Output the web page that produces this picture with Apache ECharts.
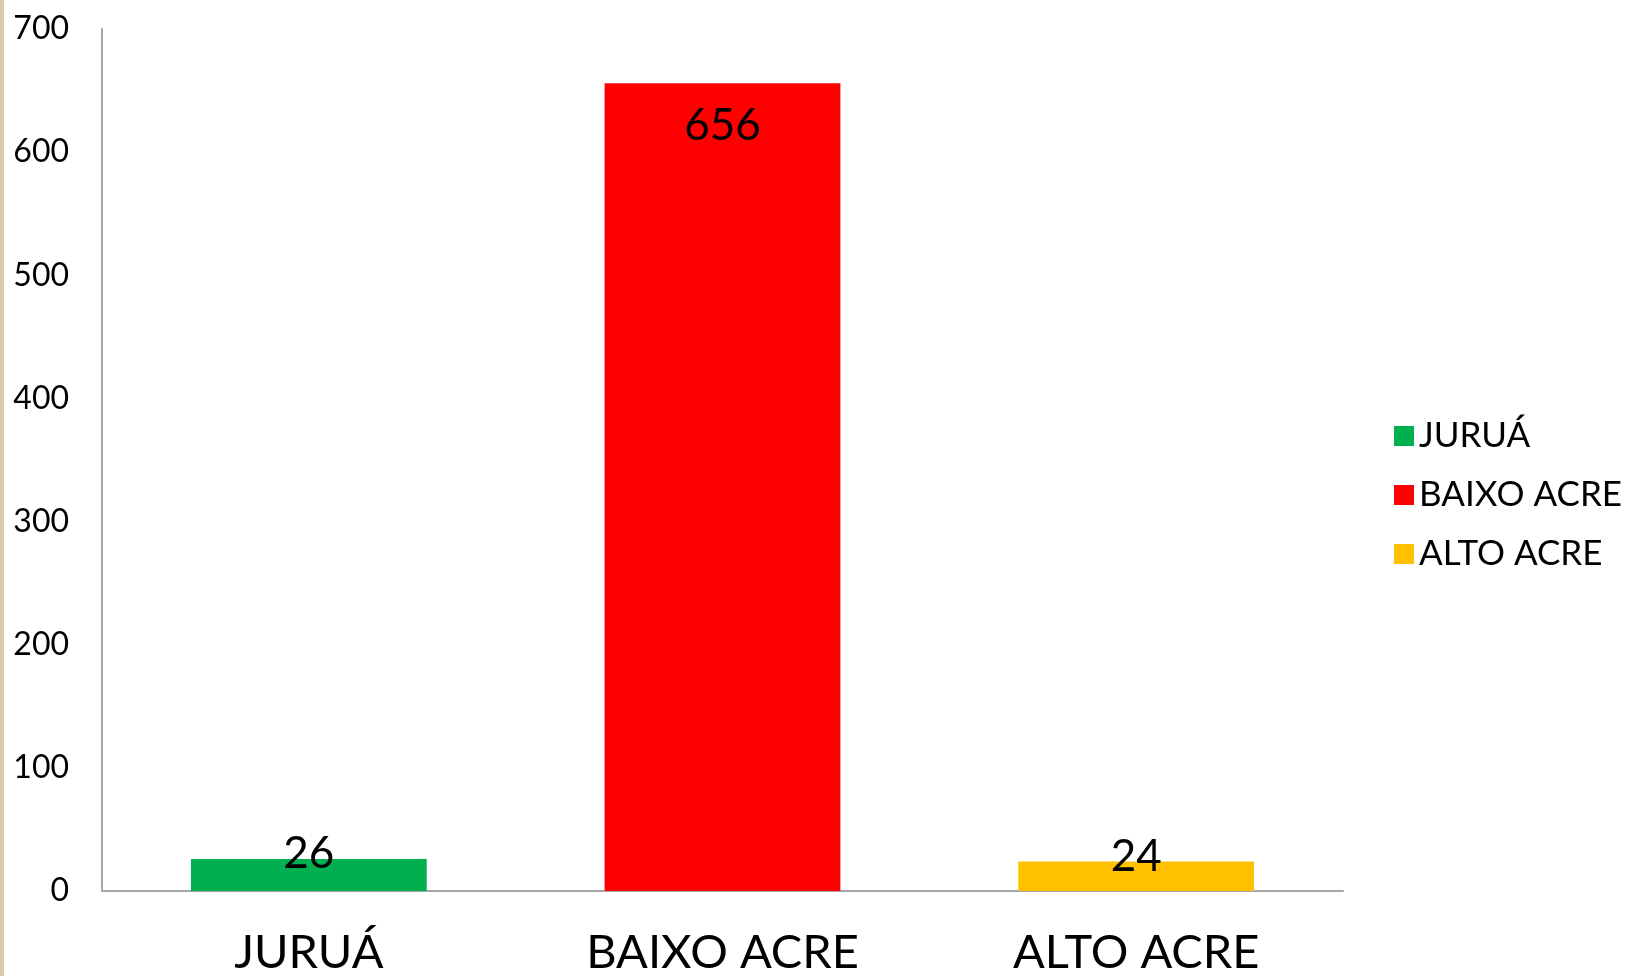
<!DOCTYPE html>
<html>
<head>
<meta charset="utf-8">
<script src="https://cdn.jsdelivr.net/npm/echarts@6/dist/echarts.min.js"></script>
<style>
html,body{margin:0;padding:0;background:#fff;}
#edge{position:absolute;left:0;top:0;width:4px;height:976px;background:#d9cba6;}
#chart{position:absolute;left:0;top:0;width:1637px;height:976px;}
</style>
</head>
<body>
<div id="chart"></div>
<div id="edge"></div>
<script>
var categories = ['JURUÁ', 'BAIXO ACRE', 'ALTO ACRE'];
var values = [26, 656, 24];
var yTicks = [0, 100, 200, 300, 400, 500, 600, 700];
var colors = ['#00B050', '#FF0000', '#FFC000'];

var FONT = 'Lato';
var series = categories.map(function (name, i) {
  var data = categories.map(function (c, j) { return j === i ? values[i] : '-'; });
  var small = values[i] < 100;
  return {
    name: name,
    type: 'bar',
    stack: 'all',
    barWidth: '57%',
    data: data,
    itemStyle: { color: colors[i] },
    label: {
      show: true,
      position: small ? 'top' : 'insideTop',
      distance: small ? -20 : 18,
      color: '#000',
      fontFamily: FONT,
      fontSize: 44,
      lineHeight: 50
    }
  };
});

var chart = echarts.init(document.getElementById('chart'));
chart.setOption({
  animation: false,
  backgroundColor: '#ffffff',
  grid: { left: 102, right: 294, top: 29, bottom: 85, containLabel: false },
  legend: {
    orient: 'vertical',
    left: 1389,
    top: 413,
    icon: 'rect',
    itemWidth: 20,
    itemHeight: 20,
    itemGap: 23,
    data: categories,
    textStyle: { fontFamily: FONT, fontSize: 35, color: '#000', lineHeight: 36, padding: [0, 0, 0, 0] }
  },
  xAxis: {
    type: 'category',
    data: categories,
    axisLine: { lineStyle: { color: '#A6A6A6', width: 2 } },
    axisTick: { show: false },
    axisLabel: { fontFamily: FONT, fontSize: 47, color: '#000', margin: 38 }
  },
  yAxis: {
    type: 'value',
    min: yTicks[0],
    max: yTicks[yTicks.length - 1],
    interval: 100,
    axisLine: { show: true, lineStyle: { color: '#A6A6A6', width: 2 } },
    axisTick: { show: false },
    splitLine: { show: false },
    axisLabel: { fontFamily: FONT, fontSize: 32, color: '#000', margin: 33 }
  },
  series: series
});
</script>
</body>
</html>
